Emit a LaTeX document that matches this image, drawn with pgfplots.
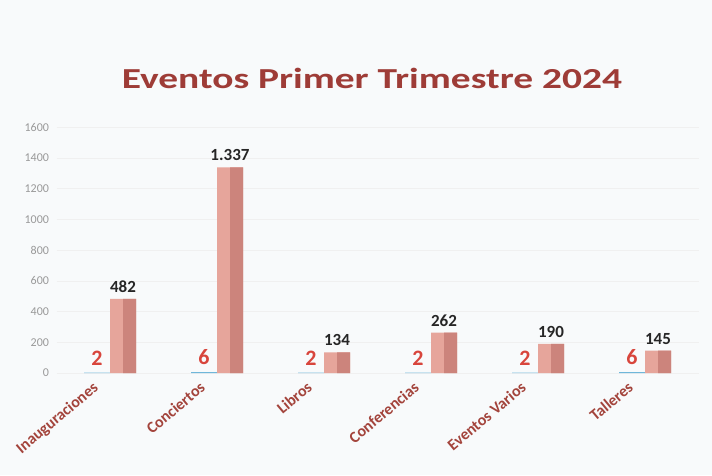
\documentclass[border=0pt]{standalone}
\usepackage{pgfplots}
\pgfplotsset{compat=1.18}
\usepackage{pgfplotstable}
\usepackage{fontspec}
\setmainfont{Carlito}
\definecolor{bg}{HTML}{F8FAFB}
\definecolor{titlered}{HTML}{9E3C37}
\definecolor{catred}{HTML}{A3443C}
\definecolor{cntred}{HTML}{D8453C}
\definecolor{pinkL}{HTML}{E6A59B}
\definecolor{pinkR}{HTML}{CC847C}
\definecolor{cntblue}{HTML}{6FB7DA}
\pgfplotstableread{
x count att lab
0 2 482 482
1 6 1337 1.337
2 2 134 134
3 2 262 262
4 2 190 190
5 6 145 145
}\data
\begin{document}
\begin{tikzpicture}[x=1pt,y=1pt]
\useasboundingbox (0,0) rectangle (712,475);
\fill[bg] (0,0) rectangle (712,475);
\node[font=\bfseries\fontsize{29}{33}\selectfont, text=titlered] at (372,397) {\scalebox{1.36}[1]{Eventos Primer Trimestre 2024}};
\begin{axis}[
  at={(56.5pt,102pt)}, anchor=south west,
  scale only axis, width=642pt, height=246pt,
  xmin=-0.5, xmax=5.5, ymin=0, ymax=1600,
  ytick={0,200,...,1600},
  axis line style={draw=none},
  major tick length=0pt,
  /pgf/number format/assume math mode=true,
  ymajorgrids, grid style={draw=black!6},
  yticklabel style={font=\rmfamily\fontsize{12}{13}\selectfont, text=black!40, xshift=-4pt},
  yticklabel={\pgfmathprintnumber[fixed,1000 sep={}]{\tick}},
  xtick={0,...,5},
  xticklabels={Inauguraciones,Conciertos,Libros,Conferencias,Eventos Varios,Talleres},
  xticklabel style={xshift=-18pt, yshift=-6pt, rotate=40, anchor=north east, font=\bfseries\fontsize{16}{18}\selectfont, text=catred, inner sep=1pt},
  clip=false,
  ybar, bar width=26pt,
]
\addplot[bar shift=-13pt, draw=none, fill=cntblue,
  nodes near coords, every node near coord/.append style={font=\bfseries\fontsize{22}{24}\selectfont, text=cntred, anchor=south, yshift=4pt}]
  table[x=x,y=count] {\data};
\addplot[bar shift=13pt, bar width=26pt, draw=none, fill=pinkL,
  point meta=explicit symbolic,
  nodes near coords, every node near coord/.append style={font=\bfseries\fontsize{17}{19}\selectfont, text=black!85, anchor=south, yshift=3pt}]
  table[x=x,y=att,meta=lab] {\data};
\addplot[bar shift=19.5pt, bar width=13pt, draw=none, fill=pinkR]
  table[x=x,y=att] {\data};
\end{axis}
\end{tikzpicture}
\end{document}
